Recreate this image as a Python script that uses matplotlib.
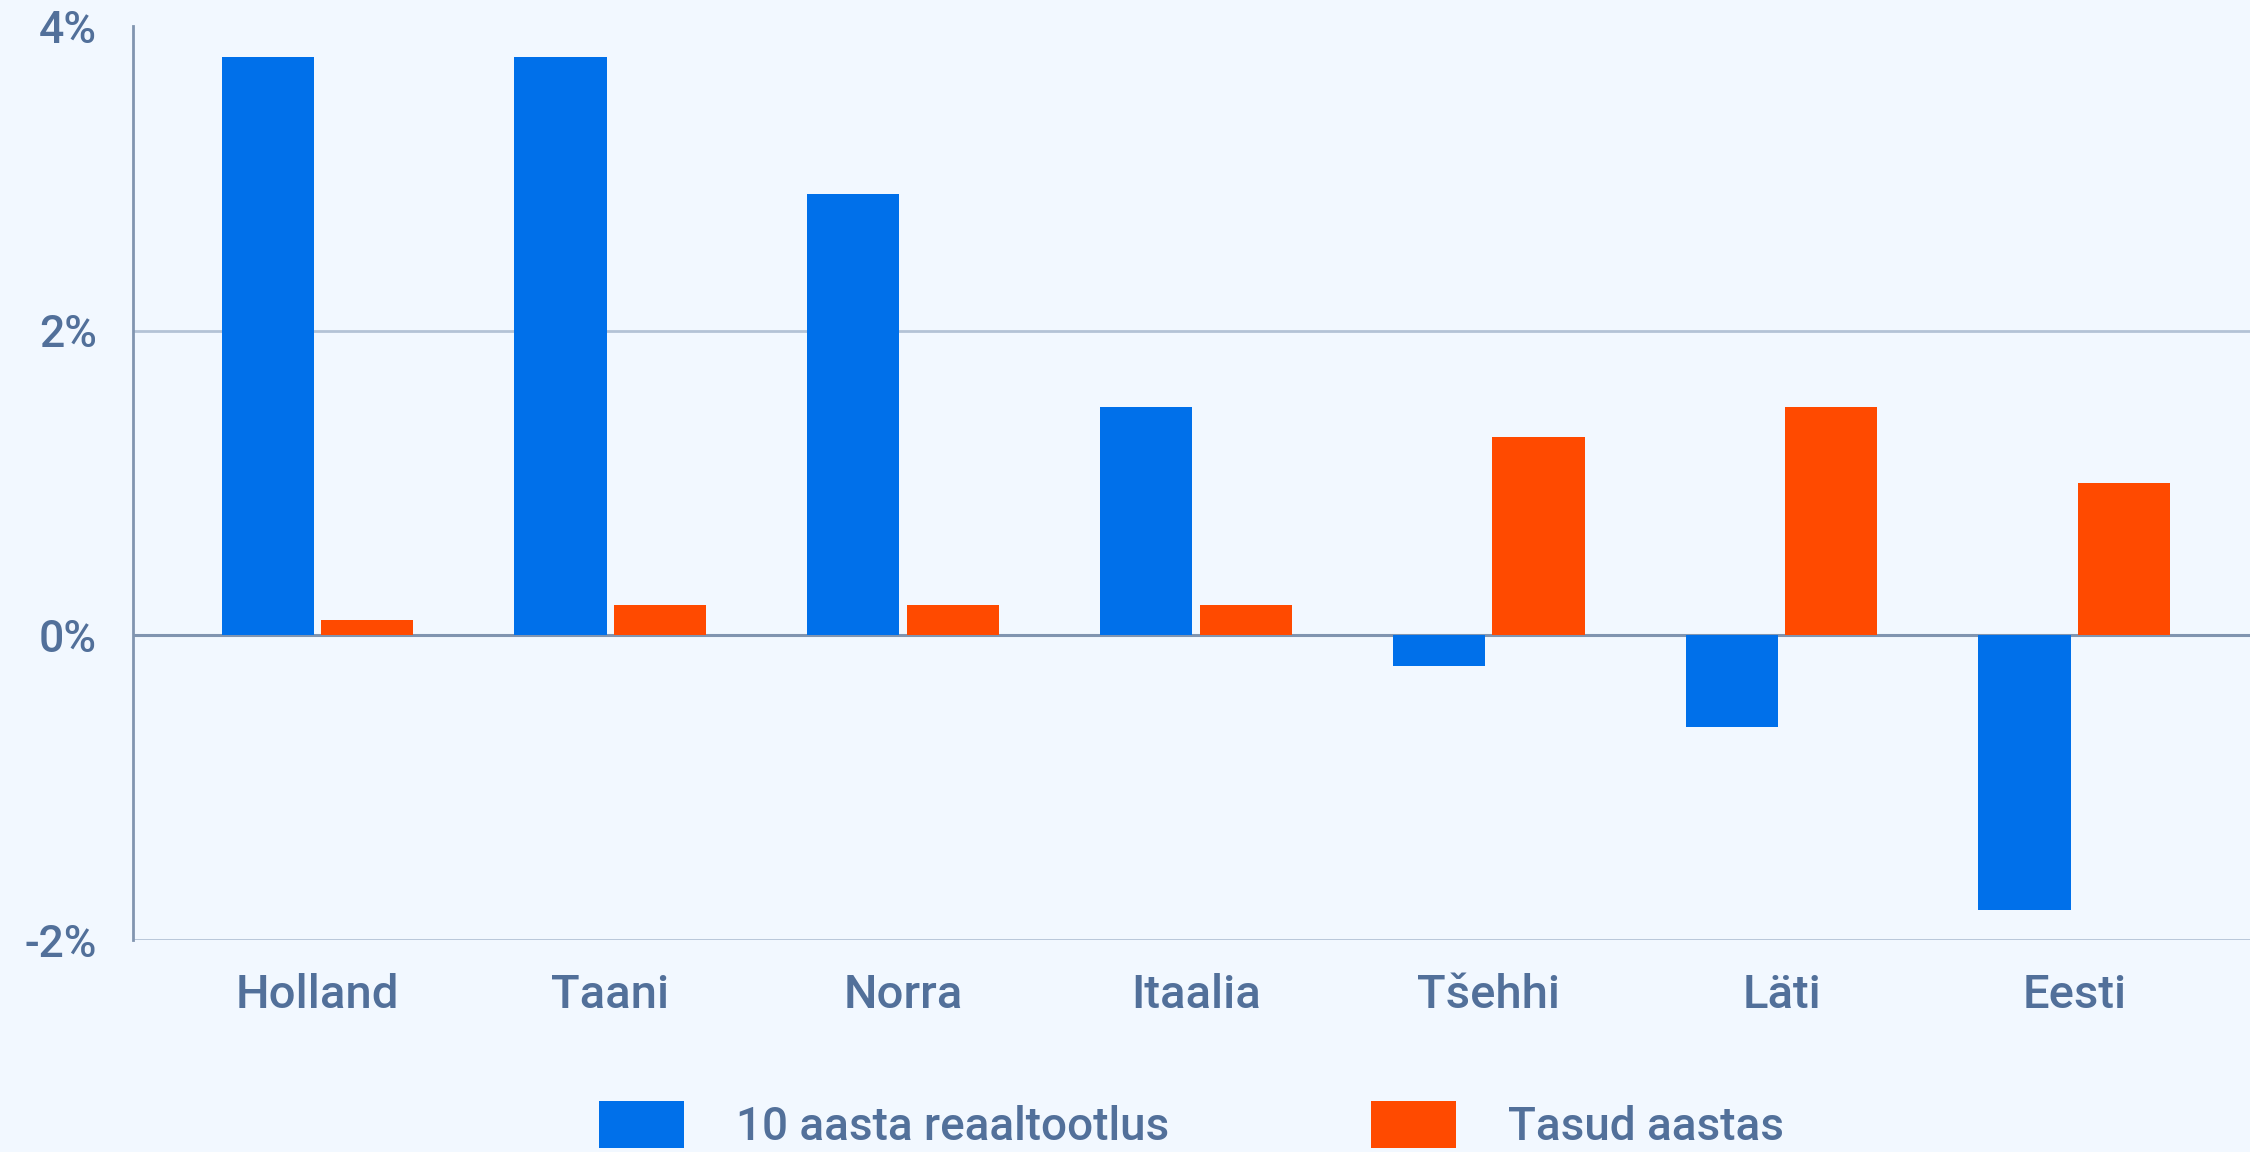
import numpy as np
import matplotlib
matplotlib.use("Agg")
import matplotlib.pyplot as plt
from matplotlib.patches import Patch

# Data
countries = ["Holland", "Taani", "Norra", "Itaalia", "Tšehhi", "Läti", "Eesti"]
real_return = [3.8, 3.8, 2.9, 1.5, -0.2, -0.6, -1.8]
fees = [0.1, 0.2, 0.2, 0.2, 1.3, 1.5, 1.0]
y_ticks = [-2, 0, 2, 4]
series_names = ["10 aasta reaaltootlus", "Tasud aastas"]

bg = "#F2F8FF"
blue = "#0070EA"
orange = "#FF4A00"
text_col = "#52709A"
grid_col = "#B4C3D6"
zero_col = "#8195B0"

plt.rcParams["font.family"] = ["Roboto", "DejaVu Sans"]

fig = plt.figure(figsize=(22.5, 11.52), dpi=100, facecolor=bg)
ax = fig.add_axes([0.0591, 0.184, 0.9409, 0.7934])
ax.set_facecolor(bg)

x = np.arange(len(countries))
w = 0.315
ax.bar(x - 0.17, real_return, width=w, color=blue, zorder=3)
ax.bar(x + 0.17, fees, width=w, color=orange, zorder=3)

ax.set_xlim(-0.63, len(countries) - 1 + 0.6)
ax.set_ylim(-2, 4)
ax.set_yticks(y_ticks)
ax.set_yticklabels([f"{v}%" for v in y_ticks])
ax.set_xticks(x)
ax.set_xticklabels(countries)

for v in [-2, 2]:
    ax.axhline(v, color=grid_col, lw=2, zorder=1)
ax.axhline(0, color=zero_col, lw=2.2, zorder=2)

for s in ["top", "right", "bottom"]:
    ax.spines[s].set_visible(False)
ax.spines["left"].set_color(zero_col)
ax.spines["left"].set_linewidth(2)

ax.tick_params(axis="both", length=0, labelcolor=text_col)
ax.tick_params(axis="x", pad=24, labelsize=34)
ax.tick_params(axis="y", pad=26, labelsize=32)
for lab in ax.get_xticklabels() + ax.get_yticklabels():
    lab.set_fontweight("medium")

handles = [Patch(facecolor=blue), Patch(facecolor=orange)]
leg = ax.legend(handles, series_names, loc="upper center", bbox_to_anchor=(0.5, -0.176),
                ncol=2, frameon=False, fontsize=33, handlelength=1.85, handleheight=1.22,
                handletextpad=1.13, columnspacing=4.4, borderpad=0, borderaxespad=0)
for t in leg.get_texts():
    t.set_color(text_col)
    t.set_fontweight("medium")

fig.savefig("out.png", dpi=100, facecolor=bg)
